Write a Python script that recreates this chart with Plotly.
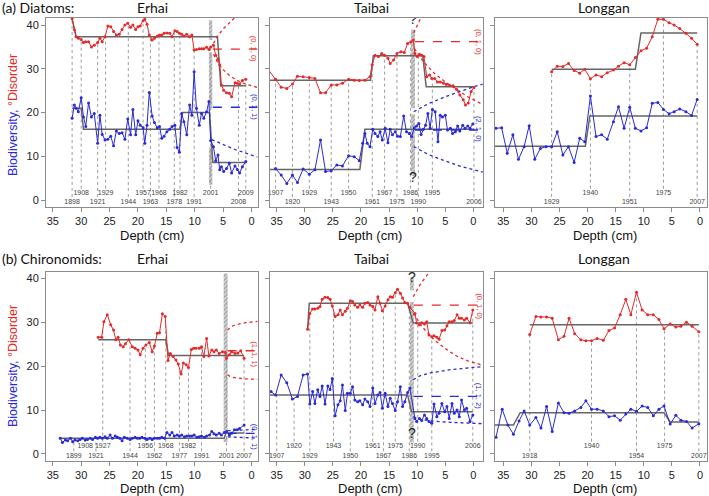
import numpy as np
import plotly.graph_objects as go

W, H = 709, 496
RED = "#e42a2a"
BLUE = "#2a2ad6"
STEP = "#666666"
FRAME = "#8c8c8c"
VLINE = "#9a9a9a"

def fx(px):
    return px / W

def fy(py):
    return 1 - py / H

# ================= (a) Diatoms - Erhai =================
a_erhai_depth = [31.6, 31.2, 30.9, 30.5, 30.0, 29.6, 29.2, 28.7, 28.2, 27.7,
                 27.1, 26.7, 26.3, 25.8, 25.3, 24.8, 24.3, 23.8, 23.3, 22.8,
                 22.3, 21.8, 21.3, 20.9, 20.4, 20.0, 19.6, 19.1, 18.8, 18.4,
                 18.0, 17.5, 17.1, 16.6, 16.2, 15.8, 15.4, 14.9, 14.4, 14.0,
                 13.5, 13.1, 12.7, 12.3, 11.9, 11.4, 10.9, 10.5, 10.1, 9.7,
                 9.2, 8.8, 8.4, 7.9, 7.5, 7.2, 6.7, 6.3, 5.9, 5.6,
                 5.3, 4.9, 4.4, 3.9, 3.5, 2.9, 2.5, 2.1, 1.6, 1.0]
a_erhai_disorder = [41.5, 38.9, 37.3, 37.0, 36.7, 36.0, 36.2, 36.2, 35.0, 35.4,
                    36.0, 37.0, 36.2, 37.3, 39.8, 39.6, 38.5, 37.7, 37.9, 39.0,
                    40.0, 40.4, 39.5, 40.0, 39.0, 39.6, 39.8, 41.0, 41.3, 40.2,
                    37.7, 36.6, 37.0, 37.5, 37.7, 37.7, 38.1, 38.2, 38.1, 37.3,
                    38.7, 38.5, 38.1, 37.9, 37.5, 37.9, 37.3, 37.7, 34.3, 34.4,
                    34.6, 34.6, 34.6, 34.9, 34.4, 35.0, 35.4, 33.1, 32.2, 30.9,
                    26.3, 25.1, 24.5, 24.4, 23.6, 26.8, 26.7, 26.5, 27.3, 27.6]
a_erhai_diversity = [18.7, 21.7, 21.0, 20.2, 23.4, 19.0, 16.8, 22.2, 19.0, 19.8,
                     13.0, 19.4, 15.0, 13.7, 13.9, 14.6, 12.4, 15.8, 15.2, 15.4,
                     13.9, 18.5, 14.9, 20.7, 14.9, 18.1, 17.1, 16.5, 13.0, 17.1,
                     24.6, 19.2, 17.7, 16.5, 16.8, 14.1, 14.6, 15.6, 16.2, 16.8,
                     17.1, 12.0, 10.9, 19.8, 17.9, 14.9, 21.7, 19.4, 29.3, 21.0,
                     17.1, 19.8, 18.7, 20.2, 22.5, 13.6, 12.2, 9.0, 10.3, 6.9,
                     7.6, 6.5, 7.2, 8.4, 6.2, 7.8, 7.0, 6.2, 7.6, 8.8]
a_erhai_dis_step_depth = [31.6, 30.9, 6.0, 5.4, 1.0]
a_erhai_dis_step = [41.4, 37.3, 37.3, 26.1, 26.1]
a_erhai_div_step_depth = [31.6, 30.0, 29.6, 12.6, 12.2, 7.4, 6.8, 1.0]
a_erhai_div_step = [21.0, 21.0, 16.2, 16.2, 20.0, 20.0, 8.6, 8.6]
a_erhai_years = ["1908", "1929", "1957", "1968", "1982", "2001", "2009",
                 "1898", "1921", "1944", "1963", "1978", "1991", "2008"]
a_erhai_year_depth = [30.0, 25.7, 19.1, 16.3, 12.6, 7.2, 1.0,
                      31.6, 27.1, 21.7, 17.8, 13.6, 10.1, 2.3]
a_erhai_year_row = [0, 0, 0, 0, 0, 0, 0, 1, 1, 1, 1, 1, 1, 1]
a_erhai_gap_depth = [7.5, 6.9]
a_erhai_gap_top = [41.1, 33.8, 12.0]
a_erhai_gap_bottom = [36.6, 21.0, 3.5]
a_erhai_dis_fc_depth = [6.8, -1.1]
a_erhai_dis_fc = [34.5, 34.5]
a_erhai_dis_hi_depth = [6.7, 6.0, 5.0, 4.0, 3.0, 2.0]
a_erhai_dis_hi = [35.8, 37.4, 39.1, 40.4, 41.6, 42.6]
a_erhai_dis_lo_depth = [6.7, 6.0, 5.0, 4.0, 3.0, 2.0, 1.0, 0.0, -1.1]
a_erhai_dis_lo = [33.3, 31.5, 29.8, 28.6, 27.7, 27.0, 26.5, 26.1, 25.7]
a_erhai_div_fc_depth = [6.8, -1.1]
a_erhai_div_fc = [21.2, 21.2]
a_erhai_div_lo_depth = [7.0, 5.0, 3.0, 1.0, -1.1]
a_erhai_div_lo = [13.8, 12.7, 11.6, 10.7, 9.8]

# ================= (a) Diatoms - Taibai =================
a_taibai_dis_depth = [36.6, 35.2, 34.2, 33.2, 32.2, 31.3, 30.3, 29.2, 28.2, 27.2,
                      26.3, 25.3, 24.3, 23.3, 22.2, 21.2, 20.3, 19.3, 18.4, 18.0,
                      17.5, 16.9, 16.3, 15.8, 15.2, 14.8, 14.2, 13.6, 12.9, 12.3,
                      11.7, 11.1, 10.7, 10.4, 10.0, 9.6, 9.2, 8.8, 8.3, 7.8,
                      7.4, 6.9, 6.4, 5.9, 5.3, 4.8, 4.2, 3.6, 3.0, 2.4,
                      1.8, 1.4, 0.9, 0.4, -0.1]
a_taibai_disorder = [30.0, 27.6, 25.8, 25.5, 26.5, 28.3, 28.2, 28.0, 27.8, 24.5,
                     24.5, 26.3, 26.3, 26.7, 27.6, 27.4, 27.3, 27.4, 28.2, 30.9,
                     33.1, 32.8, 33.5, 33.1, 32.4, 31.2, 32.0, 33.5, 33.9, 33.7,
                     35.8, 36.2, 36.6, 33.5, 32.8, 33.3, 33.1, 32.8, 28.2, 28.6,
                     27.8, 27.8, 27.0, 27.0, 26.7, 26.4, 26.2, 26.1, 25.3, 24.0,
                     22.9, 21.7, 22.2, 24.8, 25.7]
a_taibai_div_depth = [35.2, 34.2, 33.2, 32.2, 31.3, 30.3, 29.2, 28.2, 27.2, 26.3,
                      25.3, 24.3, 23.3, 22.2, 21.2, 20.3, 19.7, 19.3, 18.9, 18.4,
                      17.9, 17.5, 17.0, 16.6, 16.2, 15.7, 15.2, 14.8, 14.4, 13.9,
                      13.5, 13.0, 12.4, 11.9, 11.4, 11.0, 10.5, 10.1, 9.7, 9.3,
                      8.9, 8.5, 8.1, 7.7, 7.3, 6.8, 6.3, 5.9, 5.5, 5.0,
                      4.6, 4.1, 3.7, 3.2, 2.8, 2.4, 1.9, 1.5, 1.0, 0.6,
                      0.1]
a_taibai_diversity = [7.2, 5.7, 3.8, 5.7, 4.0, 7.1, 5.9, 6.9, 13.7, 6.5,
                      6.7, 8.0, 7.8, 10.1, 9.9, 9.0, 13.0, 15.2, 13.0, 12.2,
                      16.2, 15.2, 14.5, 15.6, 13.7, 16.4, 13.1, 16.2, 14.9, 15.6,
                      14.6, 14.5, 19.2, 15.6, 15.2, 14.5, 16.5, 16.9, 17.5, 15.0,
                      16.2, 17.1, 19.8, 16.4, 20.7, 20.2, 13.3, 19.4, 19.0, 19.4,
                      16.0, 16.4, 15.2, 15.6, 16.9, 15.8, 17.1, 16.4, 16.9, 16.4,
                      17.4]
a_taibai_dis_step_depth = [36.6, 18.3, 17.8, 9.0, 8.4, -0.1]
a_taibai_dis_step = [27.4, 27.4, 33.0, 33.0, 25.9, 25.9]
a_taibai_div_step_depth = [36.6, 20.2, 19.3, -0.1]
a_taibai_div_step = [7.0, 7.0, 16.2, 16.2]
a_taibai_years = ["1907", "1929", "1950", "1967", "1986", "1995",
                  "1920", "1943", "1961", "1975", "1990", "2006"]
a_taibai_year_depth = [35.2, 29.2, 22.2, 15.8, 11.2, 7.3,
                       32.2, 25.3, 18.0, 13.6, 9.8, -0.1]
a_taibai_year_row = [0, 0, 0, 0, 0, 0, 1, 1, 1, 1, 1, 1]
a_taibai_gap_depth = [11.1, 10.4]
a_taibai_gap_top = [39.0, 19.6]
a_taibai_gap_bottom = [21.0, 5.5]
a_taibai_query_depth = [10.75, 10.75]
a_taibai_query = [41.0, 5.0]
a_taibai_dis_fc_depth = [10.4, -1.7]
a_taibai_dis_fc = [36.2, 36.2]
a_taibai_dis_hi_depth = [10.6, 10.0, 9.3, 8.8]
a_taibai_dis_hi = [38.2, 40.0, 41.8, 43.0]
a_taibai_dis_lo_depth = [10.5, 9.0, 7.0, 5.0, 3.0, 1.0, -1.7]
a_taibai_dis_lo = [34.6, 31.8, 29.0, 27.0, 25.3, 23.6, 21.8]
a_taibai_div_fc_depth = [10.4, -1.7]
a_taibai_div_fc = [16.0, 16.0]
a_taibai_div_hi_depth = [10.6, 8.0, 5.0, 2.0, -0.1, -1.7]
a_taibai_div_hi = [20.2, 22.0, 23.6, 25.0, 25.9, 26.5]
a_taibai_div_lo_depth = [10.6, 8.0, 5.0, 2.0, -0.1, -1.7]
a_taibai_div_lo = [12.2, 10.4, 8.9, 7.6, 6.9, 6.4]

# ================= (a) Diatoms - Longgan =================
a_longgan_dis_depth = [26.4, 25.4, 24.4, 23.4, 22.4, 21.4, 20.5, 19.5, 18.5, 17.5,
                       16.5, 15.4, 14.5, 13.5, 12.5, 11.5, 10.5, 9.5, 8.5, 7.5,
                       6.5, 5.5, 4.6, 3.6, 2.5, 1.5, 0.5]
a_longgan_disorder = [29.3, 30.6, 30.5, 31.2, 29.6, 29.0, 29.9, 27.7, 28.6, 28.2,
                      29.1, 29.7, 30.6, 31.4, 30.9, 32.6, 34.1, 34.7, 37.3, 41.3,
                      41.3, 40.5, 40.0, 39.2, 38.1, 37.0, 35.6]
a_longgan_div_depth = [36.3, 35.3, 34.3, 33.3, 32.3, 31.3, 30.4, 29.4, 28.4, 27.4,
                       26.4, 25.4, 24.4, 23.4, 22.4, 21.4, 20.5, 19.5, 18.5, 17.5,
                       16.5, 15.4, 14.5, 13.5, 12.5, 11.5, 10.5, 9.5, 8.5, 7.5,
                       6.5, 5.5, 4.6, 3.6, 2.5, 1.5, 0.5]
a_longgan_diversity = [16.4, 16.5, 10.7, 14.9, 9.3, 12.2, 17.0, 9.3, 11.8, 12.2,
                       12.2, 15.6, 10.3, 12.2, 8.6, 14.1, 13.3, 23.8, 14.5, 14.9,
                       13.9, 17.9, 21.3, 16.4, 21.2, 16.4, 15.8, 16.5, 22.1, 22.3,
                       20.7, 19.7, 20.2, 20.8, 20.2, 19.3, 23.0]
a_longgan_dis_step_depth = [26.4, 11.5, 10.5, 0.5]
a_longgan_dis_step = [29.9, 29.9, 38.2, 38.2]
a_longgan_div_step_depth = [36.6, 20.4, 19.6, 0.5]
a_longgan_div_step = [12.3, 12.3, 19.2, 19.2]
a_longgan_years = ["1940", "1975", "1929", "1951", "2007"]
a_longgan_year_depth = [19.5, 6.5, 26.4, 12.5, 0.5]
a_longgan_year_row = [0, 0, 1, 1, 1]

# ================= (b) Chironomids - Erhai =================
b_erhai_dis_depth = [27.0, 26.4, 26.0, 25.4, 24.8, 24.3, 23.9, 23.5, 23.1, 22.6,
                     22.2, 21.6, 21.0, 20.5, 20.0, 19.6, 19.1, 18.6, 18.0, 17.5,
                     17.1, 16.6, 16.2, 15.7, 15.2, 14.7, 14.3, 13.8, 13.3, 12.9,
                     12.4, 12.0, 11.5, 11.1, 10.6, 10.2, 9.8, 9.2, 8.8, 8.4,
                     7.9, 7.5, 7.0, 6.6, 6.2, 5.7, 5.1, 4.6, 4.4, 3.9,
                     3.5, 2.9, 2.4, 1.9, 1.3]
b_erhai_disorder = [26.6, 26.6, 30.1, 31.7, 29.4, 28.2, 26.0, 26.6, 24.8, 24.4,
                    25.1, 26.0, 24.4, 24.1, 23.7, 22.6, 24.1, 24.8, 25.4, 23.3,
                    24.6, 27.5, 27.6, 31.9, 31.3, 21.3, 22.9, 22.2, 21.4, 20.5,
                    18.2, 20.7, 20.3, 19.7, 23.8, 24.1, 24.1, 24.1, 24.4, 22.2,
                    26.3, 22.3, 23.7, 23.3, 23.7, 22.9, 23.3, 23.1, 21.8, 22.6,
                    23.3, 22.9, 23.0, 23.5, 21.8]
b_erhai_div_depth = [33.7, 33.3, 32.8, 32.4, 31.9, 31.5, 31.1, 30.6, 30.2, 29.8,
                     29.3, 28.9, 28.4, 28.0, 27.5, 27.1, 26.7, 26.3, 25.8, 25.4,
                     24.9, 24.5, 24.0, 23.6, 23.2, 22.8, 22.4, 21.9, 21.4, 21.0,
                     20.5, 20.1, 19.7, 19.3, 18.8, 18.4, 17.9, 17.5, 17.1, 16.6,
                     16.2, 15.8, 15.3, 14.9, 14.4, 14.0, 13.6, 13.1, 12.7, 12.3,
                     11.8, 11.4, 10.9, 10.5, 10.1, 9.6, 9.2, 8.8, 8.3, 7.9,
                     7.4, 7.0, 6.6, 6.2, 5.7, 5.3, 4.8, 4.4, 3.9, 3.5,
                     3.0, 2.5, 2.1, 1.3]
b_erhai_diversity = [3.6, 2.6, 3.2, 3.0, 3.6, 2.8, 3.2, 3.0, 3.3, 3.6,
                     3.2, 3.3, 3.6, 3.3, 3.8, 3.6, 3.8, 3.6, 3.9, 3.6,
                     4.3, 3.6, 4.1, 3.8, 3.6, 3.0, 3.8, 3.6, 3.3, 3.6,
                     3.8, 3.6, 3.6, 3.8, 3.6, 3.3, 3.6, 3.3, 3.6, 3.6,
                     3.6, 3.8, 3.6, 4.9, 4.3, 4.9, 4.1, 4.3, 4.1, 4.3,
                     3.9, 4.1, 4.1, 4.1, 4.3, 3.8, 3.9, 4.1, 3.8, 4.1,
                     4.3, 5.1, 4.6, 4.3, 4.7, 4.3, 4.9, 5.1, 4.3, 4.7,
                     5.5, 5.5, 5.8, 6.6]
b_erhai_dis_step_depth = [27.0, 15.1, 14.6, 1.3]
b_erhai_dis_step = [26.0, 26.0, 22.4, 22.4]
b_erhai_div_step_depth = [33.7, 4.8, 4.5, 1.3]
b_erhai_div_step = [3.6, 3.6, 4.8, 4.8]
b_erhai_years = ["1908", "1927", "1956", "1968", "1982",
                 "1899", "1921", "1944", "1962", "1977", "1991", "2001", "2007"]
b_erhai_year_depth = [29.3, 26.2, 18.7, 15.1, 11.1,
                      31.3, 27.4, 21.4, 17.1, 12.7, 8.8, 4.4, 1.3]
b_erhai_year_row = [0, 0, 0, 0, 0, 1, 1, 1, 1, 1, 1, 1, 1]
b_erhai_gap_depth = [4.9, 4.2]
b_erhai_gap_top = [41.1, 3.6]
b_erhai_gap_bottom = [5.0, 2.7]
b_erhai_dis_fc_depth = [4.2, -1.1]
b_erhai_dis_fc = [23.5, 23.5]
b_erhai_dis_hi_depth = [4.2, 3.6, 2.5, 1.0, -1.1]
b_erhai_dis_hi = [28.2, 29.0, 29.5, 29.9, 30.2]
b_erhai_dis_lo_depth = [4.2, 3.6, 2.5, 1.0, -1.1]
b_erhai_dis_lo = [18.0, 17.5, 17.3, 17.1, 17.0]
b_erhai_div_fc_depth = [4.2, -1.1]
b_erhai_div_fc = [4.7, 4.7]
b_erhai_div_hi_depth = [4.2, -1.1]
b_erhai_div_hi = [5.3, 5.6]
b_erhai_div_lo_depth = [4.2, -1.1]
b_erhai_div_lo = [3.9, 3.6]

# ================= (b) Chironomids - Taibai =================
b_taibai_dis_depth = [29.5, 29.1, 28.6, 28.2, 27.7, 27.3, 26.9, 26.4, 25.9, 25.5,
                      25.1, 24.6, 24.1, 23.7, 23.3, 22.8, 22.4, 21.9, 21.5, 21.1,
                      20.6, 20.2, 19.7, 19.3, 18.8, 18.4, 17.9, 17.5, 17.0, 16.6,
                      16.2, 15.7, 15.2, 14.8, 14.4, 13.9, 13.5, 13.0, 12.6, 12.2,
                      11.7, 11.3, 10.4, 10.1, 9.6, 9.2, 8.7, 8.3, 7.9, 7.4,
                      7.0, 6.5, 6.1, 5.6, 5.1, 4.7, 4.3, 3.8, 3.4, 2.9,
                      2.5, 2.1, 1.6, 1.2, 0.6, 0.1]
b_taibai_disorder = [28.4, 32.0, 33.0, 33.0, 33.2, 33.6, 35.2, 35.7, 35.6, 35.2,
                     33.7, 31.3, 31.7, 32.8, 31.7, 32.5, 33.2, 34.9, 34.7, 33.9,
                     33.4, 33.9, 33.4, 34.3, 34.5, 33.9, 33.6, 32.8, 35.8, 34.3,
                     32.6, 33.7, 35.1, 35.8, 35.7, 36.7, 37.5, 36.6, 35.5, 34.5,
                     34.3, 33.4, 32.0, 29.8, 29.4, 29.9, 29.6, 30.1, 27.1, 26.7,
                     26.9, 26.6, 26.1, 28.1, 28.2, 29.2, 30.1, 30.1, 30.4, 31.7,
                     30.9, 30.9, 30.5, 30.9, 29.9, 32.8]
b_taibai_div_depth = [36.0, 35.2, 34.2, 33.2, 32.2, 31.3, 30.3, 29.5, 29.1, 28.6,
                      28.2, 27.7, 27.3, 26.9, 26.4, 25.9, 25.5, 25.1, 24.6, 24.1,
                      23.7, 23.3, 22.8, 22.4, 21.9, 21.5, 21.1, 20.6, 20.2, 19.7,
                      19.3, 18.8, 18.4, 17.9, 17.5, 17.0, 16.6, 16.2, 15.7, 15.2,
                      14.8, 14.4, 13.9, 13.5, 13.0, 12.6, 12.2, 11.7, 11.3, 10.4,
                      10.1, 9.6, 9.2, 8.7, 8.3, 7.9, 7.4, 7.0, 6.5, 6.1,
                      5.6, 5.1, 4.7, 4.3, 3.8, 3.4, 2.9, 2.5, 2.1, 1.6,
                      1.2, 0.6, 0.1]
b_taibai_diversity = [14.2, 13.4, 18.0, 16.2, 12.5, 13.1, 18.0, 18.2, 11.4, 14.2,
                      11.5, 14.6, 13.1, 15.5, 11.4, 15.5, 14.7, 17.2, 8.7, 11.2,
                      12.1, 15.7, 9.9, 13.8, 13.8, 15.3, 12.3, 11.9, 12.1, 11.2,
                      12.5, 11.9, 10.8, 15.0, 11.5, 13.4, 14.0, 10.4, 13.8, 10.8,
                      12.7, 11.5, 9.9, 11.9, 15.3, 10.8, 11.9, 14.0, 15.0, 8.1,
                      7.4, 8.1, 7.6, 8.9, 8.1, 7.4, 7.0, 11.4, 8.5, 9.3,
                      11.5, 9.6, 10.8, 8.1, 11.5, 9.3, 10.0, 8.5, 12.3, 10.0,
                      10.4, 7.4, 8.9]
b_taibai_dis_step_depth = [29.5, 29.2, 11.7, 10.7, 0.1]
b_taibai_dis_step = [28.4, 34.3, 34.3, 29.8, 29.8]
b_taibai_div_step_depth = [36.6, 11.7, 11.0, 0.1]
b_taibai_div_step = [13.4, 13.4, 9.6, 9.6]
b_taibai_years = ["1920", "1943", "1961", "1975", "1990", "2006",
                  "1907", "1929", "1950", "1967", "1986", "1995"]
b_taibai_year_depth = [31.9, 24.9, 17.9, 13.9, 9.9, 0.1,
                       35.0, 29.1, 21.9, 16.0, 11.4, 7.4]
b_taibai_year_row = [0, 0, 0, 0, 0, 0, 1, 1, 1, 1, 1, 1]
b_taibai_gap_depth = [11.3, 10.6]
b_taibai_gap_top = [40.3, 34.6]
b_taibai_gap_bottom = [37.2, 2.6]
b_taibai_query_depth = [10.95, 10.95]
b_taibai_query = [40.0, 4.5]
b_taibai_dis_fc_depth = [10.6, -1.7]
b_taibai_dis_fc = [33.9, 33.9]
b_taibai_dis_hi_depth = [10.7, 9.5, 8.5, 7.5, 6.8]
b_taibai_dis_hi = [35.8, 38.5, 40.3, 41.9, 43.0]
b_taibai_dis_lo_depth = [10.7, 9.0, 7.0, 5.0, 3.0, 1.0, -1.7]
b_taibai_dis_lo = [32.0, 28.8, 26.0, 24.0, 22.3, 21.2, 20.2]
b_taibai_div_fc_depth = [10.6, -1.7]
b_taibai_div_fc = [13.1, 13.1]
b_taibai_div_hi_depth = [10.7, 9.5, 7.5, 4.0, -1.7]
b_taibai_div_hi = [16.9, 17.8, 18.5, 19.2, 19.9]
b_taibai_div_lo_depth = [10.7, 9.5, 7.5, 4.0, -1.7]
b_taibai_div_lo = [8.5, 7.9, 7.5, 7.2, 6.9]

# ================= (b) Chironomids - Longgan =================
b_longgan_dis_depth = [30.3, 29.2, 28.3, 27.3, 26.3, 25.2, 24.2, 23.3, 22.3, 21.2,
                       20.3, 19.3, 18.3, 17.2, 16.2, 15.2, 14.2, 13.2, 12.3, 11.3,
                       10.3, 9.3, 8.3, 7.3, 6.4, 5.3, 4.3, 3.4, 2.4, 1.4,
                       0.2]
b_longgan_disorder = [27.2, 31.3, 31.2, 31.2, 30.9, 26.0, 26.8, 30.9, 27.4, 26.0,
                      25.8, 25.8, 26.3, 25.9, 28.1, 28.7, 31.7, 35.2, 31.7, 36.8,
                      32.8, 31.7, 31.7, 30.6, 28.5, 29.6, 28.9, 29.1, 30.0, 29.1,
                      27.8]
b_longgan_div_depth = [36.3, 35.2, 34.2, 33.2, 32.2, 31.3,
                       30.3, 29.2, 28.3, 27.3, 26.3, 25.2, 24.2, 23.3, 22.3, 21.2,
                       20.3, 19.3, 18.3, 17.2, 16.2, 15.2, 14.2, 13.2, 12.3, 11.3,
                       10.3, 9.3, 8.3, 7.3, 6.4, 5.3, 4.3, 3.4, 2.4, 1.4,
                       0.2]
b_longgan_diversity = [3.8, 10.2, 6.6, 4.5, 7.5, 9.8,
                       6.6, 8.3, 5.9, 10.8, 5.1, 11.6, 9.4, 9.3, 9.8, 10.6,
                       12.1, 10.2, 10.2, 9.8, 8.5, 8.7, 7.7, 9.1, 10.2, 9.7,
                       10.9, 10.6, 8.7, 10.2, 10.9, 6.8, 8.8, 7.7, 7.4, 5.9,
                       6.9]
b_longgan_dis_step_depth = [30.3, 0.2]
b_longgan_dis_step = [29.4, 29.4]
b_longgan_div_step_depth = [36.6, 33.2, 32.0, 6.4, 5.3, 0.2]
b_longgan_div_step = [6.6, 6.6, 9.4, 9.4, 7.3, 7.3]
b_longgan_years = ["1940", "1975", "1918", "1954", "2007"]
b_longgan_year_depth = [19.3, 6.3, 30.3, 11.3, 0.2]
b_longgan_year_row = [0, 0, 1, 1, 1]

# ARIMA model labels (depth, level, text, series)
a_erhai_models = [(-0.5, 34.5, "(0, 1, 0)", "dis"), (-0.5, 21.2, "(0, 1, 1)", "div")]
a_taibai_models = [(-0.95, 36.2, "(0, 1, 0)", "dis"), (-0.95, 16.3, "(2, 1, 0)", "div")]
b_erhai_models = [(-0.55, 22.8, "(1, 1, 1)", "dis"), (-0.55, 4.0, "(0, 1, 1)", "div")]
b_taibai_models = [(-0.95, 33.7, "(0, 1, 0)", "dis"), (-0.95, 13.3, "(1, 1, 2)", "div")]

x_ticks = [35, 30, 25, 20, 15, 10, 5, 0]
y_ticks = [0, 10, 20, 30, 40]

# layout (pixel positions in the 709x496 window)
ROW_TOP = (18, 207)
ROW_BOT = (271.7, 460.7)
COL_X = [(46, 257.5), (270, 482.7), (495, 707)]
COL_XR = [[36.2, -1.06], [36.19, -1.66], [36.48, -1.25]]
ROW_YR = [[-1.6, 41.6], [-1.53, 41.5]]
LABEL_Y = [(1.5, -0.4), (1.7, -0.45)]
LINE_END = [(2.6, 0.7), (2.8, 0.6)]

def P(prefix, with_fc):
    g = globals()
    d = dict(
        dis_d=g[prefix + "_dis_depth"] if prefix + "_dis_depth" in g else g[prefix + "_depth"],
        dis=g[prefix + "_disorder"],
        div_d=g[prefix + "_div_depth"] if prefix + "_div_depth" in g else g[prefix + "_depth"],
        div=g[prefix + "_diversity"],
        dis_sd=g[prefix + "_dis_step_depth"], dis_s=g[prefix + "_dis_step"],
        div_sd=g[prefix + "_div_step_depth"], div_s=g[prefix + "_div_step"],
        years=g[prefix + "_years"], yd=g[prefix + "_year_depth"], yr=g[prefix + "_year_row"],
    )
    if with_fc:
        d["gap"] = (g[prefix + "_gap_depth"], g[prefix + "_gap_top"], g[prefix + "_gap_bottom"])
        fc = []
        for ser, col in (("dis", RED), ("div", BLUE)):
            if prefix + f"_{ser}_fc" in g:
                fc.append((g[prefix + f"_{ser}_fc_depth"], g[prefix + f"_{ser}_fc"], col, "dash"))
            for band in ("hi", "lo"):
                if prefix + f"_{ser}_{band}" in g:
                    fc.append((g[prefix + f"_{ser}_{band}_depth"], g[prefix + f"_{ser}_{band}"], col, "dot"))
        d["fc"] = fc
        d["models"] = g[prefix + "_models"]
        if prefix + "_query" in g:
            d["query"] = (g[prefix + "_query_depth"], g[prefix + "_query"])
    return d

panels = [
    (0, 0, P("a_erhai", True)), (0, 1, P("a_taibai", True)), (0, 2, P("a_longgan", False)),
    (1, 0, P("b_erhai", True)), (1, 1, P("b_taibai", True)), (1, 2, P("b_longgan", False)),
]

fig = go.Figure()
layout = dict(width=W, height=H, margin=dict(l=0, r=0, t=0, b=0, pad=0),
              paper_bgcolor="white", plot_bgcolor="white", showlegend=False,
              barmode="overlay", annotations=[])

def sc(i, **kw):
    xa = "x" if i == 1 else f"x{i}"
    ya = "y" if i == 1 else f"y{i}"
    fig.add_trace(go.Scatter(xaxis=xa, yaxis=ya, hoverinfo="skip", showlegend=False, **kw))

for k, (row, col, p) in enumerate(panels):
    i = k + 1
    xa = "x" if i == 1 else f"x{i}"
    ya = "y" if i == 1 else f"y{i}"
    ypx = ROW_TOP if row == 0 else ROW_BOT
    xpx = COL_X[col]
    axis_common = dict(showline=True, mirror=True, linecolor=FRAME, linewidth=1,
                       showgrid=False, zeroline=False, ticks="outside", ticklen=4,
                       tickcolor=FRAME, tickfont=dict(family="Liberation Sans", size=11, color="#222"))
    layout["xaxis" if i == 1 else f"xaxis{i}"] = dict(
        domain=[fx(xpx[0]), fx(xpx[1])], range=COL_XR[col], anchor=ya,
        tickvals=x_ticks, **axis_common)
    layout["yaxis" if i == 1 else f"yaxis{i}"] = dict(
        domain=[fy(ypx[1]), fy(ypx[0])], range=ROW_YR[row], anchor=xa,
        tickvals=y_ticks, showticklabels=(col == 0), **axis_common)

    # hiatus bars
    if "gap" in p:
        gd, gt, gb = p["gap"]
        fig.add_trace(go.Bar(
            x=[(gd[0] + gd[1]) / 2] * len(gt), y=[t - b for t, b in zip(gt, gb)], base=gb,
            width=[abs(gd[0] - gd[1])] * len(gt), xaxis=xa, yaxis=ya,
            marker=dict(color="#c8c8c8", line=dict(width=0),
                        pattern=dict(shape="/", fgcolor="#6f6f6f", bgcolor="#d4d4d4",
                                     size=3, solidity=0.45)),
            hoverinfo="skip", showlegend=False))

    # vertical dotted date lines + labels
    dis_inc_d = p["dis_d"][::-1]; dis_inc_v = p["dis"][::-1]
    div_inc_d = p["div_d"][::-1]; div_inc_v = p["div"][::-1]
    lx, ly = [], []
    for d, r in zip(p["yd"], p["yr"]):
        if min(p["dis_d"]) - 0.05 <= d <= max(p["dis_d"]) + 0.05:
            top = float(np.interp(d, dis_inc_d, dis_inc_v))
        else:
            top = float(np.interp(d, div_inc_d, div_inc_v))
        lx += [d, d, None]
        ly += [LINE_END[row][r], top, None]
    sc(i, x=lx, y=ly, mode="lines", line=dict(color=VLINE, width=1, dash="dot"))
    sc(i, x=p["yd"], y=[LABEL_Y[row][r] for r in p["yr"]], mode="text", text=p["years"],
       textfont=dict(family="Liberation Sans", size=7, color="#444"), cliponaxis=False)

    # step (change point) lines
    sc(i, x=p["dis_sd"], y=p["dis_s"], mode="lines", line=dict(color=STEP, width=1.5))
    sc(i, x=p["div_sd"], y=p["div_s"], mode="lines", line=dict(color=STEP, width=1.5))

    # forecasts
    for fd, fv, c, dash in p.get("fc", []):
        sc(i, x=fd, y=fv, mode="lines", line=dict(color=c, width=1.3, dash=dash))

    # data series
    sc(i, x=p["dis_d"], y=p["dis"], mode="lines+markers",
       line=dict(color=RED, width=1), marker=dict(size=3, color=RED))
    sc(i, x=p["div_d"], y=p["div"], mode="lines+markers",
       line=dict(color=BLUE, width=1), marker=dict(size=3, color=BLUE))

    if "query" in p:
        qd, qv = p["query"]
        sc(i, x=qd, y=qv, mode="text", text=["?"] * len(qd),
           textfont=dict(family="Liberation Sans", size=14, color="#222"))

    for md, mv, mt, ser in p.get("models", []):
        layout["annotations"].append(dict(
            x=md, y=mv, xref=xa, yref=ya, text=mt, showarrow=False, textangle=90,
            font=dict(family="Liberation Sans", size=7.5, color=RED if ser == "dis" else BLUE)))

anns = layout["annotations"]
title_font = dict(family="Lato", size=14, color="#111")
for txt, x, y, anchor in [("(a) Diatoms:", 0, 8, "left"), ("Erhai", 152, 7, "center"),
                          ("Taibai", 371, 7, "center"), ("Longgan", 604, 7, "center"),
                          ("(b) Chironomids:", 0, 258, "left"), ("Erhai", 152, 258, "center"),
                          ("Taibai", 371, 258, "center"), ("Longgan", 604, 258, "center")]:
    anns.append(dict(x=fx(x), y=fy(y), xref="paper", yref="paper", text=txt,
                     showarrow=False, xanchor=anchor, yanchor="middle", font=title_font))
for yy in (235, 488):
    for xx in (152, 370, 605):
        anns.append(dict(x=fx(xx), y=fy(yy), xref="paper", yref="paper", text="Depth (cm)",
                         showarrow=False, xanchor="center", yanchor="middle",
                         font=dict(family="Liberation Sans", size=13, color="#111")))
ytitle = (f"<span style='color:{BLUE}'>Biodiversity,</span> "
          f"<span style='color:{RED}'>°Disorder</span>")
for yy in (115, 366):
    anns.append(dict(x=fx(13), y=fy(yy), xref="paper", yref="paper", text=ytitle,
                     showarrow=False, textangle=-90, xanchor="center", yanchor="middle",
                     font=dict(family="Liberation Sans", size=12.5)))

fig.update_layout(**layout)
# remove the browser's default 8px body margin so the 709x496 figure fills the window
fig.write_html("out.html", config={"displayModeBar": False},
               post_script="document.body.style.margin='0px';document.body.style.padding='0px';")
